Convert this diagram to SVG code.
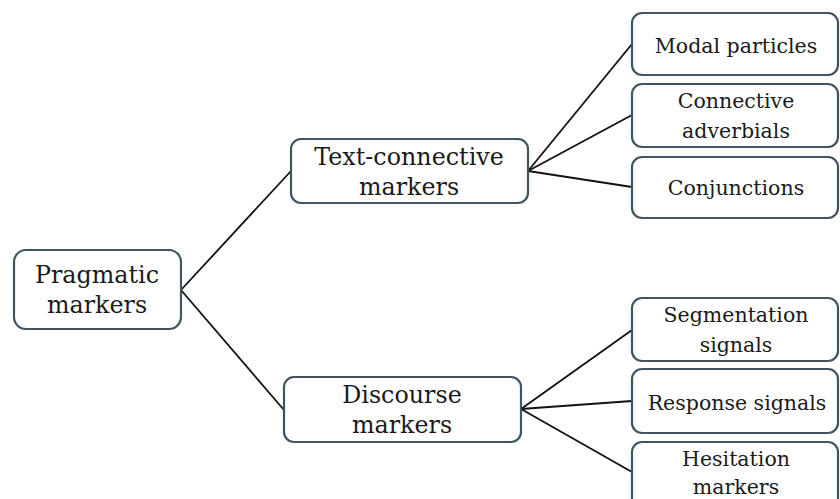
<svg xmlns="http://www.w3.org/2000/svg" width="840" height="499" viewBox="0 0 840 499">
<style>
.box{fill:#ffffff;stroke:#3f5560;stroke-width:2.2}
.big{font-family:"DejaVu Serif","Liberation Serif",serif;font-size:23.8px;fill:#1a1a1a;text-anchor:middle}
.sm{font-family:"DejaVu Serif","Liberation Serif",serif;font-size:20.5px;fill:#1a1a1a;text-anchor:middle}
.ln{stroke:#111;stroke-width:1.8;fill:none}
</style>
<rect width="840" height="499" fill="#ffffff"/>
<g id="connectors">
<line class="ln" x1="181" y1="290" x2="291" y2="171"/>
<line class="ln" x1="181" y1="290" x2="284" y2="410"/>
<line class="ln" x1="528" y1="171" x2="632" y2="44"/>
<line class="ln" x1="528" y1="171" x2="632" y2="115"/>
<line class="ln" x1="528" y1="171" x2="632" y2="187"/>
<line class="ln" x1="521" y1="409" x2="632" y2="330"/>
<line class="ln" x1="521" y1="409" x2="632" y2="401"/>
<line class="ln" x1="521" y1="409" x2="632" y2="472"/>
</g>
<g id="pragmatic">
<rect class="box" x="14" y="250" width="167" height="79" rx="12"/>
<text class="big" x="97" y="283">Pragmatic</text>
<text class="big" x="97" y="313">markers</text>
</g>
<g id="text-connective">
<rect class="box" x="291" y="139" width="237" height="64" rx="10"/>
<text class="big" x="409" y="165">Text-connective</text>
<text class="big" x="409" y="195">markers</text>
</g>
<g id="discourse">
<rect class="box" x="284" y="377" width="237" height="65" rx="10"/>
<text class="big" x="402" y="403">Discourse</text>
<text class="big" x="402" y="433">markers</text>
</g>
<g id="modal">
<rect class="box" x="632" y="13" width="206" height="62" rx="10"/>
<text class="sm" x="736" y="53">Modal particles</text>
</g>
<g id="adverbials">
<rect class="box" x="632" y="84" width="206" height="63" rx="10"/>
<text class="sm" x="736" y="108">Connective</text>
<text class="sm" x="736" y="138">adverbials</text>
</g>
<g id="conjunctions">
<rect class="box" x="632" y="157" width="206" height="61" rx="10"/>
<text class="sm" x="736" y="195">Conjunctions</text>
</g>
<g id="segmentation">
<rect class="box" x="632" y="298" width="206" height="63" rx="10"/>
<text class="sm" x="736" y="322">Segmentation</text>
<text class="sm" x="736" y="352">signals</text>
</g>
<g id="response">
<rect class="box" x="632" y="369" width="206" height="64" rx="10"/>
<text class="sm" x="737" y="410">Response signals</text>
</g>
<g id="hesitation">
<rect class="box" x="632" y="442" width="206" height="70" rx="10"/>
<text class="sm" x="736" y="466">Hesitation</text>
<text class="sm" x="736" y="494">markers</text>
</g>
</svg>
